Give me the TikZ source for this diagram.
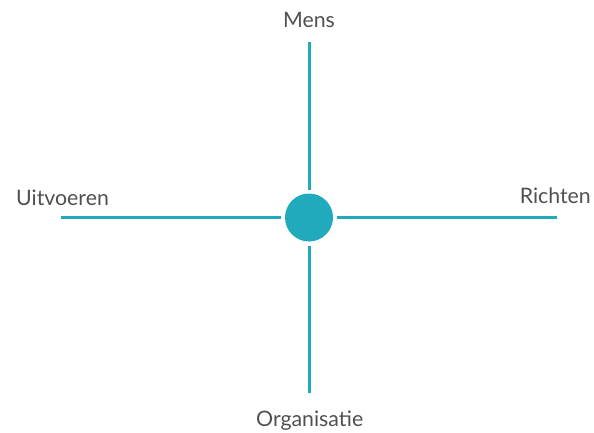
\documentclass[tikz,border=0pt]{standalone}
\usepackage{fontspec}
\setmainfont{Lato}
\definecolor{axis}{HTML}{20AABB}
\definecolor{txt}{HTML}{505050}
\begin{document}
\begin{tikzpicture}[x=1pt,y=-1pt,
  axisline/.style={draw=axis,line width=3pt},
  hub/.style={circle,fill=axis,minimum size=48pt,inner sep=0pt,outer sep=4pt},
  lbl/.style={text=txt,font=\fontsize{21.3}{25}\selectfont,inner sep=0pt}]
\useasboundingbox (0,0) rectangle (594,432);
\node[hub] (c) at (309,217.5) {};
\coordinate (l) at (61,217.5);
\coordinate (r) at (557,217.5);
\coordinate (t) at (309,41.5);
\coordinate (b) at (309,393);
\draw[axisline] (l) -- (c);
\draw[axisline] (c) -- (r);
\draw[axisline] (t) -- (c);
\draw[axisline] (c) -- (b);
\node[lbl,anchor=base] (mens) at (309,27.3) {Mens};
\node[lbl,anchor=base] (org) at (309.7,426.7) {Organisatie};
\node[lbl,anchor=base west] (uit) at (16,205.7) {Uitvoeren};
\node[lbl,anchor=base east] (ri) at (591,203.7) {Richten};
\end{tikzpicture}
\end{document}
